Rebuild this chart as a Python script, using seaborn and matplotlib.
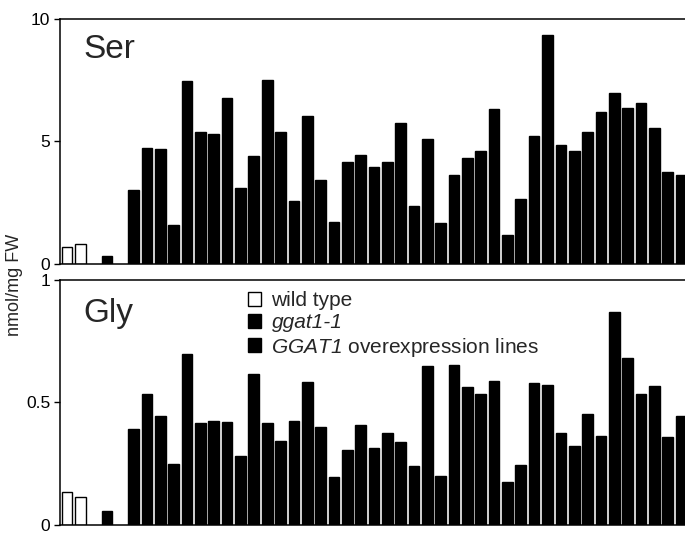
import matplotlib
matplotlib.use("Agg")
import pandas as pd
import matplotlib.pyplot as plt
from matplotlib.patches import Patch
import seaborn as sns

# genotype groups, in plotting order, with number of bars in each
groups = ["wild type", "ggat1-1", "GGAT1 overexpression lines"]
group_sizes = [2, 1, 42]

# Ser content (nmol/mg FW)
ser_wt = [0.71, 0.80]
ser_ggat = [0.34]
ser_oe = [3.00, 4.75, 4.69, 1.61, 7.45, 5.40, 5.32, 6.79, 3.11, 4.41,
          7.50, 5.40, 2.58, 6.02, 3.42, 1.73, 4.17, 4.43, 3.97, 4.17,
          5.74, 2.36, 5.12, 1.66, 3.63, 4.31, 4.62, 6.34, 1.20, 2.66,
          5.21, 9.33, 4.84, 4.60, 5.39, 6.19, 6.98, 6.37, 6.56, 5.54,
          3.74, 3.63]

# Gly content (nmol/mg FW)
gly_wt = [0.133, 0.115]
gly_ggat = [0.057]
gly_oe = [0.393, 0.535, 0.444, 0.248, 0.696, 0.415, 0.425, 0.421, 0.280, 0.618,
          0.416, 0.343, 0.424, 0.585, 0.400, 0.196, 0.305, 0.409, 0.316, 0.374,
          0.340, 0.241, 0.650, 0.200, 0.653, 0.565, 0.534, 0.588, 0.176, 0.243,
          0.580, 0.572, 0.374, 0.321, 0.454, 0.363, 0.871, 0.680, 0.535, 0.566,
          0.358, 0.444]

sns.set_style("ticks")
plt.rcParams["font.family"] = ["Liberation Sans", "DejaVu Sans"]
# math text is only used for the italic gene name in the legend
plt.rcParams["mathtext.fontset"] = "custom"
plt.rcParams["mathtext.rm"] = "Liberation Sans:italic"
plt.rcParams["mathtext.it"] = "Liberation Sans:italic"

# one empty slot between genotype groups
positions, labels = [], []
pos = 0
for g, n in zip(groups, group_sizes):
    for _ in range(n):
        positions.append(pos)
        labels.append(g)
        pos += 1
    pos += 1

df = pd.DataFrame({
    "pos": positions,
    "group": labels,
    "Ser": ser_wt + ser_ggat + ser_oe,
    "Gly": gly_wt + gly_ggat + gly_oe,
})
palette = {"wild type": "white", "ggat1-1": "black",
           "GGAT1 overexpression lines": "black"}

fig = plt.figure(figsize=(6.85, 5.33), dpi=100)
ax_ser = fig.add_axes([0.0876, 0.5047, 0.9124, 0.4597])
ax_gly = fig.add_axes([0.0876, 0.0150, 0.9124, 0.4597])

panels = [(ax_ser, "Ser", 10, [0, 5, 10], ["0", "5", "10"], 0.841),
          (ax_gly, "Gly", 1, [0, 0.5, 1], ["0", "0.5", "1"], 0.829)]

for ax, col, ymax, ticks, ticklabels, title_y in panels:
    sns.barplot(data=df, x="pos", y=col, hue="group", palette=palette,
                native_scale=True, dodge=False, width=0.8, errorbar=None,
                edgecolor="black", linewidth=1, legend=False, ax=ax)
    ax.set_xlim(-0.52, 46.3)
    ax.set_ylim(0, ymax)
    ax.set_xticks([])
    ax.set_yticks(ticks)
    ax.set_yticklabels(ticklabels)
    ax.set_xlabel("")
    ax.set_ylabel("")
    ax.tick_params(axis="y", direction="out", length=4, width=1,
                   labelsize=12.5, colors="black", pad=3)
    for side in ["left", "top", "bottom"]:
        ax.spines[side].set_color("black")
        ax.spines[side].set_linewidth(1.1)
    ax.spines["right"].set_visible(False)
    ax.text(0.038, title_y, col, transform=ax.transAxes, fontsize=24,
            va="baseline", ha="left")

handles = [Patch(facecolor=palette[g], edgecolor="black", linewidth=1)
           for g in groups]
leg_labels = ["wild type", "ggat1-1", r"$GGAT1$ overexpression lines"]
leg = ax_gly.legend(handles, leg_labels, loc="upper left",
                    bbox_to_anchor=(0.30, 0.955), frameon=False, fontsize=15,
                    handlelength=0.65, handleheight=0.65, handletextpad=0.5,
                    labelspacing=0.16, borderpad=0, borderaxespad=0)
leg.get_texts()[1].set_fontstyle("italic")

fig.text(0.021, 1 - 285 / 533, "nmol/mg FW", rotation=90, va="center",
         ha="center", fontsize=13)

fig.savefig("out.png", dpi=100)
